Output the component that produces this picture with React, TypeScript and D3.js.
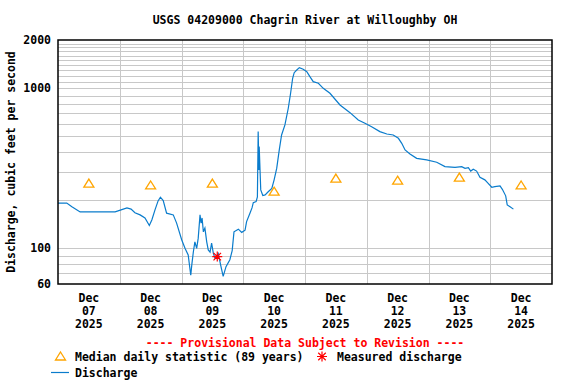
import React from 'react';
import * as d3 from 'd3';

// hours since Dec 07 2025 00:00
const flowHours = [0, 3.4, 5.4, 8.6, 14.4, 22.2, 24.5, 26.8, 28.4, 29.9, 31.9, 33.8, 35.5, 36.5, 37.7, 38.9, 39.8, 40.9, 42.2, 44.8, 46.1, 48.1, 49.4, 50.6, 51.6, 52.0, 52.6, 53.2, 53.9, 54.5, 55.2, 55.6, 56.0, 56.5, 57.1, 57.8, 58.4, 59.1, 59.7, 60.4, 61.0, 62.3, 63.2, 64.2, 65.3, 66.8, 67.7, 68.4, 70.1, 71.4, 72.7, 73.3, 74.6, 75.4, 75.9, 77.0, 77.5, 77.8, 78.1, 78.2, 78.8, 79.6, 80.5, 81.7, 83.1, 84.0, 85.0, 86.0, 86.9, 88.2, 89.5, 90.4, 91.2, 91.8, 92.8, 93.8, 95.3, 96.7, 97.9, 99.2, 101.2, 103.1, 105.7, 109.6, 113.5, 116.7, 119.3, 121.9, 125.1, 127.8, 130.3, 132.3, 133.6, 134.9, 136.8, 139.4, 143.3, 147.2, 150.4, 154.3, 156.9, 158.2, 159.5, 160.4, 161.4, 162.7, 164.0, 165.9, 167.2, 168.6, 169.8, 171.8, 172.7, 174.0, 174.6, 175.7, 177.0];
const flowCfs = [192, 192, 182, 169, 169, 169, 174, 179, 176, 167, 162, 155, 139, 151, 174, 198, 209, 199, 166, 162, 144, 113, 100, 91, 68, 79, 95, 110, 100, 116, 162, 144, 155, 127, 134, 110, 98, 95, 108, 93, 87, 93, 79, 67, 77, 85, 97, 127, 132, 126, 130, 147, 166, 179, 193, 196, 210, 536, 309, 432, 232, 214, 216, 226, 237, 268, 316, 412, 511, 590, 750, 930, 1154, 1250, 1300, 1344, 1313, 1269, 1181, 1099, 1074, 999, 930, 786, 704, 634, 604, 575, 536, 518, 511, 487, 453, 412, 389, 365, 357, 345, 324, 321, 324, 316, 319, 304, 312, 304, 278, 268, 255, 241, 243, 246, 234, 213, 187, 182, 176];

const dayLabels = ['07', '08', '09', '10', '11', '12', '13', '14'];
const medianCfs = [256, 249, 256, 228, 275, 267, 279, 249];
const measuredHours = [61.9];
const measuredCfs = [89];
const yTickLabels = [60, 100, 1000, 2000];

const left = 58, right = 552, top = 40, bottom = 284;
const font = '"DejaVu Sans Mono", monospace';

export default function App() {
  const x = d3.scaleLinear().domain([0, 192]).range([left, right]);
  const y = d3.scaleLog().domain([60, 2000]).range([bottom, top]);

  const grid: number[] = [];
  for (let v = 70; v < 100; v += 10) grid.push(v);
  for (let v = 100; v < 2000; v += 100) grid.push(v);

  const line = d3.line<number>()
    .x((_, i) => x(flowHours[i]))
    .y((d) => y(d));

  const tri = (cx: number, cy: number) =>
    `M${cx},${cy - 4}L${cx + 5},${cy + 4}L${cx - 5},${cy + 4}Z`;
  const star = (cx: number, cy: number, r: number) =>
    `M${cx - r},${cy}L${cx + r},${cy}M${cx},${cy - r}L${cx},${cy + r}` +
    `M${cx - r * 0.75},${cy - r * 0.75}L${cx + r * 0.75},${cy + r * 0.75}` +
    `M${cx - r * 0.75},${cy + r * 0.75}L${cx + r * 0.75},${cy - r * 0.75}`;

  const txt = { fontFamily: font, fontWeight: 'bold', fontSize: 11.5 } as const;

  return (
    <svg width={576} height={384} style={{ position: 'absolute', left: 0, top: 0, background: '#fff' }}>
      <text x={305} y={24} textAnchor="middle" style={txt}>USGS 04209000 Chagrin River at Willoughby OH</text>

      {/* grid */}
      {grid.map((v) => (
        <line key={v} x1={left} x2={right} y1={Math.round(y(v)) + 0.5} y2={Math.round(y(v)) + 0.5} stroke="#c8c8c8" strokeWidth={1} />
      ))}
      {d3.range(1, 8).map((d) => (
        <line key={d} x1={Math.round(x(d * 24)) + 0.5} x2={Math.round(x(d * 24)) + 0.5} y1={top} y2={bottom} stroke="#c8c8c8" strokeWidth={1} />
      ))}

      <path d={line(flowCfs) || ''} fill="none" stroke="#0a7ccc" strokeWidth={1.2} />

      {medianCfs.map((v, i) => (
        <path key={i} d={tri(x(i * 24 + 12), y(v))} fill="none" stroke="#ffa500" strokeWidth={1.3} />
      ))}
      {measuredCfs.map((v, i) => (
        <path key={i} d={star(x(measuredHours[i]), y(v), 5)} stroke="#ff0000" strokeWidth={1.2} />
      ))}

      <rect x={left} y={top} width={right - left} height={bottom - top} fill="none" stroke="#000" strokeWidth={1.5} />

      {/* y axis */}
      {yTickLabels.map((v) => (
        <text key={v} x={51} y={y(v)} dy="0.35em" textAnchor="end" style={txt}>{v}</text>
      ))}
      <text transform={`translate(15,${(top + bottom) / 2}) rotate(-90)`} textAnchor="middle" style={txt}>
        Discharge, cubic feet per second
      </text>

      {/* x axis */}
      {dayLabels.map((d, i) => {
        const cx = x(i * 24 + 12);
        return (
          <g key={d}>
            <text x={cx} y={302} textAnchor="middle" style={txt}>Dec</text>
            <text x={cx} y={315} textAnchor="middle" style={txt}>{d}</text>
            <text x={cx} y={328} textAnchor="middle" style={txt}>2025</text>
          </g>
        );
      })}

      {/* legend */}
      <text x={305} y={347} textAnchor="middle" style={{ ...txt, fill: '#ff0000' }}>---- Provisional Data Subject to Revision ----</text>
      <path d={tri(60.5, 356)} fill="none" stroke="#ffa500" strokeWidth={1.3} />
      <text x={75} y={361} style={txt}>Median daily statistic (89 years)</text>
      <path d={star(322, 356.5, 5)} stroke="#ff0000" strokeWidth={1.2} />
      <text x={337} y={361} style={txt}>Measured discharge</text>
      <line x1={51} x2={69} y1={372.5} y2={372.5} stroke="#0a7ccc" strokeWidth={1.2} />
      <text x={75} y={377} style={txt}>Discharge</text>
    </svg>
  );
}
